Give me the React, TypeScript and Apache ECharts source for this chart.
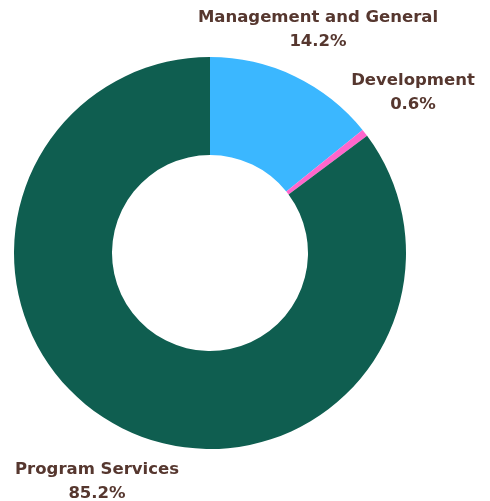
import React, { useEffect, useRef } from "react";
import * as echarts from "echarts";

const categories = ["Management and General", "Development", "Program Services"];
const values = [14.2, 0.6, 85.2];
const colors = ["#3bb7ff", "#ff66cc", "#0f5e50"];
const labelPos: [number, number][] = [
  [318, 28],
  [413, 91],
  [97, 480],
];

export default function App() {
  const ref = useRef<HTMLDivElement>(null);
  useEffect(() => {
    if (!ref.current) return;
    const chart = echarts.init(ref.current, null, { renderer: "svg" });
    chart.setOption({
      animation: false,
      series: [
        {
          type: "pie",
          center: [210, 253],
          radius: [98, 196],
          startAngle: 90,
          clockwise: true,
          avoidLabelOverlap: false,
          data: categories.map((name, i) => ({
            name,
            value: values[i],
            itemStyle: { color: colors[i] },
          })),
          itemStyle: { borderWidth: 0 },
          emphasis: { disabled: true },
          labelLine: { show: false },
          label: {
            show: true,
            position: "outside",
            formatter: "{b}\n{c}%",
            color: "#56372f",
            fontFamily: "DejaVu Sans",
            fontWeight: "bold",
            fontSize: 16.5,
            lineHeight: 24,
            align: "center",
          },
          labelLayout: (p: any) => ({
            x: labelPos[p.dataIndex][0],
            y: labelPos[p.dataIndex][1],
            align: "center",
            verticalAlign: "middle",
          }),
        },
      ],
    });
    return () => chart.dispose();
  }, []);
  return (
    <div
      ref={ref}
      style={{ position: "fixed", left: 0, top: 0, width: 490, height: 501 }}
    />
  );
}
